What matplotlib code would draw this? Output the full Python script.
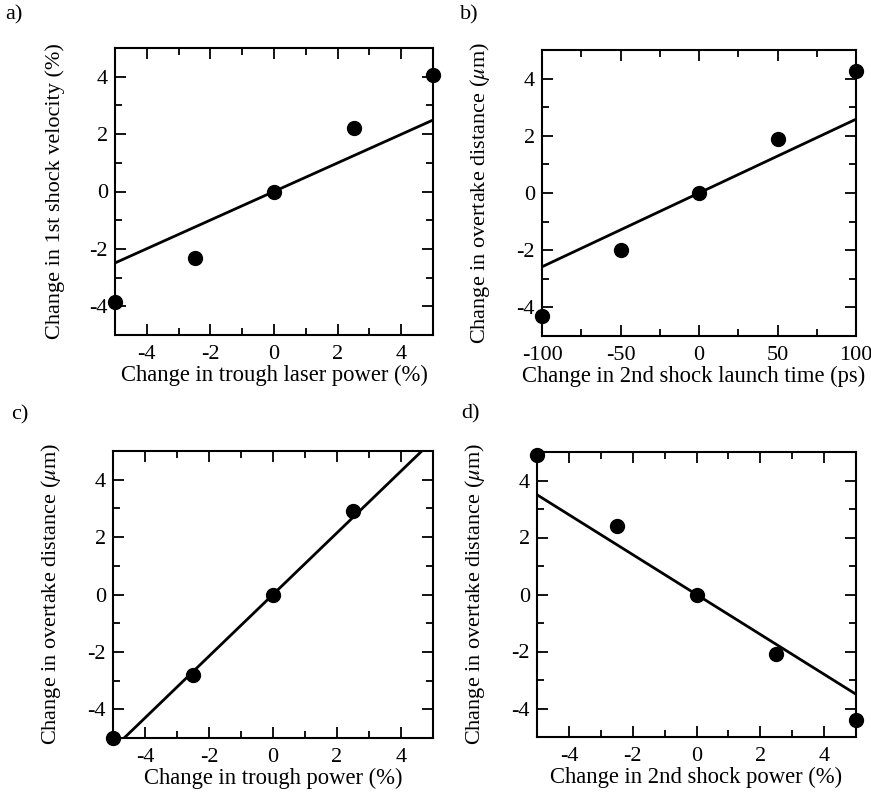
import numpy as np
import matplotlib
matplotlib.use("Agg")
import matplotlib.pyplot as plt
from matplotlib.ticker import MultipleLocator

plt.rcParams['font.family'] = ['Liberation Serif', 'DejaVu Serif']
plt.rcParams['mathtext.fontset'] = 'stix'
plt.rcParams['axes.unicode_minus'] = False

# panel a
a_x = [-5, -2.5, 0, 2.5, 5]
a_y = [-3.85, -2.3, 0.0, 2.2, 4.05]
a_slope = 0.498
# panel b
b_x = [-100, -50, 0, 50, 100]
b_y = [-4.3, -2.0, 0.0, 1.9, 4.25]
b_slope = 0.0258
# panel c
c_x = [-5, -2.5, 0, 2.5]
c_y = [-5.0, -2.8, 0.0, 2.9]
c_slope = 1.075
# panel d
d_x = [-5, -2.5, 0, 2.5, 5]
d_y = [4.9, 2.4, 0.0, -2.1, -4.4]
d_slope = -0.70

W, H = 871, 799
fig = plt.figure(figsize=(W / 100, H / 100), dpi=100)

def ax_at(l, t, r, b):
    return fig.add_axes([l / W, 1 - b / H, (r - l) / W, (b - t) / H])

panels = [
    (ax_at(115, 48, 433, 335), a_x, a_y, a_slope, (-5, 5), 2, 1,
     'Change in trough laser power (%)', 'Change in 1st shock velocity (%)', 'a)', (5, 15)),
    (ax_at(542, 50, 856, 336), b_x, b_y, b_slope, (-100, 100), 50, 25,
     'Change in 2nd shock launch time (ps)', 'Change in overtake distance ($\\mu$m)', 'b)', (460, 15)),
    (ax_at(113, 451, 433, 738), c_x, c_y, c_slope, (-5, 5), 2, 1,
     'Change in trough power (%)', 'Change in overtake distance ($\\mu$m)', 'c)', (11, 415)),
    (ax_at(537, 452, 856, 737), d_x, d_y, d_slope, (-5, 5), 2, 1,
     'Change in 2nd shock power (%)', 'Change in overtake distance ($\\mu$m)', 'd)', (461, 414)),
]

for ax, x, y, slope, xlim, xmaj, xmin, xl, yl, tag, tpos in panels:
    xs = np.array(xlim, dtype=float)
    ax.plot(xs, slope * xs, color='black', lw=2)
    ax.plot(x, y, 'o', color='black', ms=10, clip_on=False, zorder=5)
    ax.set_xlim(*xlim)
    ax.set_ylim(-5, 5)
    ax.xaxis.set_major_locator(MultipleLocator(xmaj))
    ax.xaxis.set_minor_locator(MultipleLocator(xmin))
    ax.yaxis.set_major_locator(MultipleLocator(2))
    ax.yaxis.set_minor_locator(MultipleLocator(1))
    ax.tick_params(which='both', direction='in', top=True, right=True,
                   width=1.3, labelsize=16)
    ax.tick_params(axis='x', pad=7)
    ax.tick_params(axis='y', pad=5)
    ax.tick_params(which='major', length=8)
    ax.tick_params(which='minor', length=5)
    if xlim == (-5, 5):
        ax.set_xticks([-4, -2, 0, 2, 4])
    ax.set_yticks([-4, -2, 0, 2, 4])
    for s in ax.spines.values():
        s.set_linewidth(1.5)
    ax.set_xlabel(xl, fontsize=16.3, labelpad=1)
    ax.set_ylabel(yl, fontsize=16, labelpad=18)
    fig.text(tpos[0] / W, 1 - tpos[1] / H, tag, fontsize=16, va='center', ha='left')

# label under panel b sits a little left of centre in the reference
panels[1][0].xaxis.label.set_x(0.483)

fig.savefig('out.png', dpi=100)
